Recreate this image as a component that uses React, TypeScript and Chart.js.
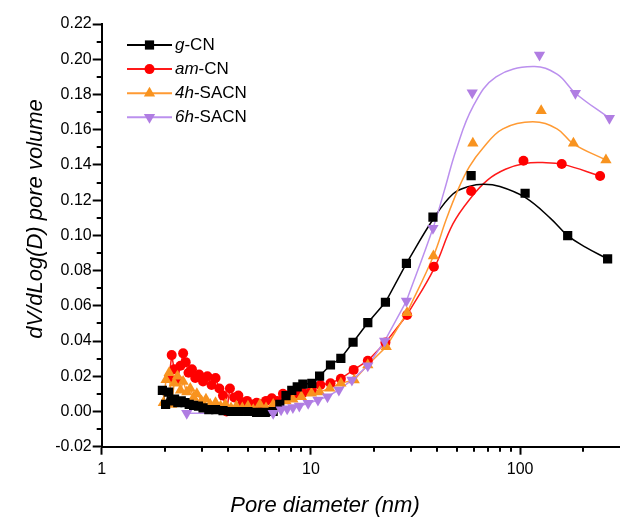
import React, { useEffect, useRef } from 'react';
import { Chart, registerables } from 'chart.js';

Chart.register(...registerables);

const FONT = '"Liberation Sans", Arial, Helvetica, sans-serif';

// ---- tick definitions ----
const xMajorTicks = [1, 10, 100];
const xMinorTicks = [2, 3, 4, 5, 6, 7, 8, 9, 20, 30, 40, 50, 60, 70, 80, 90, 200];
const yMajorTicks = [-0.02, 0, 0.02, 0.04, 0.06, 0.08, 0.1, 0.12, 0.14, 0.16, 0.18, 0.2, 0.22];
const yMinorTicks = [-0.01, 0.01, 0.03, 0.05, 0.07, 0.09, 0.11, 0.13, 0.15, 0.17, 0.19, 0.21];

// ---- g-CN ----
const gcnX = [1.95, 2.02, 2.09, 2.16, 2.23, 2.31, 2.4, 2.5, 2.62, 2.75, 2.9, 3.05, 3.25, 3.5, 3.8, 4.15, 4.55, 5.0, 5.5, 6.05, 6.6, 7.1, 7.6, 8.1, 8.6, 9.15, 10.1, 11.0, 12.4, 13.9, 15.9, 18.7, 22.7, 28.6, 38.3, 58.3, 105.6, 168.7, 261.8];
const gcnY = [0.012, 0.004, 0.011, 0.006, 0.007, 0.005, 0.006, 0.005, 0.004, 0.0035, 0.003, 0.002, 0.001, 0.001, 0.0005, 0.0, 0.0, 0.0, -0.0005, -0.0005, 0.0, 0.004, 0.009, 0.012, 0.014, 0.0155, 0.016, 0.0201, 0.0264, 0.0302, 0.0393, 0.0504, 0.062, 0.0841, 0.1103, 0.1339, 0.1239, 0.0998, 0.0866];
const gcnFitX = [28.6, 38.3, 47.7, 57, 67, 80, 105.6, 140, 168.7, 206, 261.8];
const gcnFitY = [0.0841, 0.109, 0.1235, 0.1278, 0.129, 0.1277, 0.1215, 0.1095, 0.0998, 0.0932, 0.0866];

// ---- am-CN ----
const amX = [2.1, 2.16, 2.22, 2.3, 2.38, 2.45, 2.52, 2.6, 2.7, 2.8, 2.92, 3.05, 3.2, 3.35, 3.5, 3.65, 3.8, 3.95, 4.1, 4.3, 4.5, 4.7, 4.95, 5.2, 5.5, 5.8, 6.1, 6.5, 6.9, 7.35, 7.8, 8.5, 9.17, 10.1, 11.1, 12.4, 13.9, 16.0, 18.7, 22.7, 28.8, 38.7, 58.3, 103.7, 158, 241];
const amY = [0.019, 0.032, 0.024, 0.018, 0.026, 0.033, 0.028, 0.022, 0.024, 0.019, 0.021, 0.017, 0.02, 0.015, 0.019, 0.013, 0.009, 0.0, 0.013, 0.008, 0.009, 0.005, 0.006, 0.004, 0.005, 0.004, 0.006, 0.0075, 0.006, 0.01, 0.008, 0.0103, 0.0107, 0.012, 0.015, 0.016, 0.0186, 0.0236, 0.0288, 0.0391, 0.0548, 0.0822, 0.1252, 0.1424, 0.1405, 0.1337];
const amFitX = [28.8, 38.7, 47.7, 58.3, 70, 85, 105, 128, 160, 241];
const amFitY = [0.0548, 0.081, 0.1065, 0.1215, 0.1315, 0.1375, 0.1408, 0.1413, 0.1403, 0.1337];

// ---- 4h-SACN ----
const h4X = [1.97, 2.03, 2.1, 2.16, 2.22, 2.3, 2.38, 2.45, 2.55, 2.65, 2.75, 2.85, 3.0, 3.15, 3.3, 3.5, 3.7, 3.9, 4.15, 4.4, 4.7, 5.0, 5.3, 5.7, 6.1, 6.6, 7.1, 7.6, 8.2, 9.0, 10.06, 11.0, 12.3, 13.9, 16.1, 18.7, 22.9, 28.8, 38.5, 59.4, 126, 179.7, 257];
const h4Y = [0.005, 0.018, 0.022, 0.004, 0.016, 0.02, 0.012, 0.017, 0.011, 0.013, 0.008, 0.01, 0.006, 0.007, 0.004, 0.005, 0.003, 0.004, 0.002, 0.003, 0.002, 0.003, 0.001, 0.004, 0.002, 0.004, 0.003, 0.006, 0.007, 0.0084, 0.0103, 0.011, 0.0132, 0.016, 0.0179, 0.0264, 0.0368, 0.0561, 0.0883, 0.1523, 0.1708, 0.1523, 0.1428];
const h4FitX = [28.8, 38.5, 44.3, 50.4, 57.2, 66.3, 82.7, 115, 150, 179.7, 257];
const h4FitY = [0.0561, 0.0883, 0.109, 0.1258, 0.139, 0.1495, 0.1605, 0.1645, 0.1605, 0.152, 0.1428];

// ---- 6h-SACN ----
const h6X = [2.55, 6.6, 7.2, 7.7, 8.2, 8.8, 9.7, 10.8, 12.0, 13.6, 15.7, 18.7, 22.5, 28.6, 38.3, 59.0, 123.7, 183.6, 267];
const h6Y = [-0.001, -0.001, 0.001, 0.0015, 0.0022, 0.0031, 0.0046, 0.0065, 0.0084, 0.0122, 0.0179, 0.026, 0.04, 0.0627, 0.104, 0.181, 0.2024, 0.1807, 0.1665];
const h6FitX = [28.6, 38.3, 43.5, 49.4, 59.4, 76.7, 115, 150, 183.6, 267];
const h6FitY = [0.0627, 0.104, 0.1258, 0.1485, 0.173, 0.19, 0.1958, 0.1915, 0.1807, 0.1665];

// ---- legend ----
const legendItalic = ['g', 'am', '4h', '6h'];
const legendRest = ['-CN', '-CN', '-SACN', '-SACN'];

const COLORS = {
  g: { line: '#000000', fill: '#000000' },
  am: { line: '#ff1a1a', fill: '#ff0000' },
  h4: { line: '#ff9a33', fill: '#f8931f' },
  h6: { line: '#bb90ee', fill: '#b07de2' },
};

type Pt = { x: number; y: number };
const toPts = (xs: number[], ys: number[]): Pt[] => xs.map((x, i) => ({ x, y: ys[i] }));

const MARKERS = [
  { style: 'rect', r: 6.5, rot: 0, c: COLORS.g },
  { style: 'circle', r: 5, rot: 0, c: COLORS.am },
  { style: 'triangle', r: 6.5, rot: 0, c: COLORS.h4 },
  { style: 'triangle', r: 6.5, rot: 180, c: COLORS.h6 },
];

function drawMarker(ctx: CanvasRenderingContext2D, style: string, x: number, y: number, r: number, rot: number, color: string) {
  ctx.save();
  ctx.fillStyle = color;
  ctx.beginPath();
  if (style === 'rect') {
    const s = Math.SQRT1_2 * r;
    ctx.rect(x - s, y - s, 2 * s, 2 * s);
  } else if (style === 'circle') {
    ctx.arc(x, y, r, 0, Math.PI * 2);
  } else {
    let rad = (rot * Math.PI) / 180;
    ctx.moveTo(x + Math.sin(rad) * r, y - Math.cos(rad) * r);
    rad += (2 * Math.PI) / 3;
    ctx.lineTo(x + Math.sin(rad) * r, y - Math.cos(rad) * r);
    rad += (2 * Math.PI) / 3;
    ctx.lineTo(x + Math.sin(rad) * r, y - Math.cos(rad) * r);
    ctx.closePath();
  }
  ctx.fill();
  ctx.restore();
}

const decorPlugin = {
  id: 'decor',
  afterDraw(chart: any) {
    const ctx: CanvasRenderingContext2D = chart.ctx;
    const xs = chart.scales.x;
    const ys = chart.scales.y;
    const area = chart.chartArea;
    ctx.save();
    // minor ticks
    ctx.strokeStyle = '#000';
    ctx.lineWidth = 2;
    ctx.beginPath();
    xMinorTicks.forEach((v) => {
      const px = Math.round(xs.getPixelForValue(v));
      ctx.moveTo(px, area.bottom);
      ctx.lineTo(px, area.bottom + 5);
    });
    yMinorTicks.forEach((v) => {
      const py = Math.round(ys.getPixelForValue(v));
      ctx.moveTo(area.left, py);
      ctx.lineTo(area.left - 5, py);
    });
    ctx.stroke();

    // axis titles
    ctx.fillStyle = '#000';
    ctx.font = `italic 22px ${FONT}`;
    ctx.textAlign = 'center';
    ctx.textBaseline = 'middle';
    ctx.fillText('Pore diameter (nm)', 325, 506);
    ctx.save();
    ctx.translate(36, 219);
    ctx.rotate(-Math.PI / 2);
    ctx.fillText('dV/dLog(D) pore volume', 0, 0);
    ctx.restore();

    // legend
    const lx0 = 127;
    const lx1 = 172;
    const ly0 = 45;
    const ldy = 24.1;
    ctx.textAlign = 'left';
    for (let i = 0; i < 4; i++) {
      const y = ly0 + i * ldy;
      const m = MARKERS[i];
      ctx.strokeStyle = m.c.line;
      ctx.lineWidth = 2;
      ctx.beginPath();
      ctx.moveTo(lx0, y);
      ctx.lineTo(lx1, y);
      ctx.stroke();
      drawMarker(ctx, m.style, (lx0 + lx1) / 2, y, m.r, m.rot, m.c.fill);
      ctx.fillStyle = '#000';
      ctx.font = `italic 17px ${FONT}`;
      const tx = 175;
      ctx.fillText(legendItalic[i], tx, y);
      const w = ctx.measureText(legendItalic[i]).width;
      ctx.font = `17px ${FONT}`;
      ctx.fillText(legendRest[i], tx + w, y);
    }
    ctx.restore();
  },
};

export default function App() {
  const ref = useRef<HTMLCanvasElement | null>(null);

  useEffect(() => {
    if (!ref.current) return;
    const markerSet = (label: string, xs: number[], ys: number[], idx: number, order: number) => {
      const m = MARKERS[idx];
      return {
        label,
        data: toPts(xs, ys),
        showLine: false,
        pointStyle: m.style,
        pointRadius: m.r,
        pointRotation: m.rot,
        pointBackgroundColor: m.c.fill,
        pointBorderColor: m.c.fill,
        pointBorderWidth: 0,
        order,
      };
    };
    // low-range segment: straight joins between the measured points
    const lowSet = (label: string, xs: number[], ys: number[], fx: number[], color: string, order: number) => ({
      label,
      data: toPts(xs, ys).filter((p) => p.x <= fx[0]),
      showLine: true,
      borderColor: color,
      borderWidth: 1.5,
      pointRadius: 0,
      tension: 0,
      fill: false,
      order,
    });
    // high-range segment: smooth fitted curve
    const fitSet = (label: string, fx: number[], fy: number[], color: string, order: number) => ({
      label,
      data: toPts(fx, fy),
      showLine: true,
      borderColor: color,
      borderWidth: 1.5,
      pointRadius: 0,
      tension: 0.4,
      fill: false,
      order,
    });

    const chart = new Chart(ref.current, {
      type: 'scatter',
      data: {
        datasets: [
          lowSet('g-CN low', gcnX, gcnY, gcnFitX, COLORS.g.line, 12),
          lowSet('am-CN low', amX, amY, amFitX, COLORS.am.line, 13),
          lowSet('4h-SACN low', h4X, h4Y, h4FitX, COLORS.h4.line, 11),
          lowSet('6h-SACN low', h6X, h6Y, h6FitX, COLORS.h6.line, 10),
          fitSet('g-CN fit', gcnFitX, gcnFitY, COLORS.g.line, 12),
          fitSet('am-CN fit', amFitX, amFitY, COLORS.am.line, 13),
          fitSet('4h-SACN fit', h4FitX, h4FitY, COLORS.h4.line, 11),
          fitSet('6h-SACN fit', h6FitX, h6FitY, COLORS.h6.line, 10),
          markerSet('g-CN', gcnX, gcnY, 0, 1),
          markerSet('am-CN', amX, amY, 1, 3),
          markerSet('4h-SACN', h4X, h4Y, 2, 2),
          markerSet('6h-SACN', h6X, h6Y, 3, 0),
        ] as any,
      },
      options: {
        animation: false,
        responsive: false,
        devicePixelRatio: 1,
        layout: { autoPadding: false, padding: { top: 24, right: 0, left: 0, bottom: 0 } },
        plugins: { legend: { display: false }, tooltip: { enabled: false } },
        scales: {
          x: {
            type: 'logarithmic',
            min: 1,
            max: 300,
            afterBuildTicks: (s: any) => {
              s.ticks = xMajorTicks.map((v) => ({ value: v }));
            },
            afterFit: (s: any) => {
              s.height = 74.3;
            },
            grid: { drawOnChartArea: false, drawTicks: true, tickLength: 8, tickWidth: 2, tickColor: '#000' },
            border: { display: true, color: '#000', width: 2 },
            ticks: {
              color: '#000',
              font: { family: FONT, size: 16 },
              padding: 5,
              maxRotation: 0,
              autoSkip: false,
              callback: (v: any) => String(v),
            },
          },
          y: {
            type: 'linear',
            min: -0.02,
            max: 0.22,
            afterBuildTicks: (s: any) => {
              s.ticks = yMajorTicks.map((v) => ({ value: v }));
            },
            afterFit: (s: any) => {
              s.width = 101.7;
            },
            grid: { drawOnChartArea: false, drawTicks: true, tickLength: 9, tickWidth: 2, tickColor: '#000' },
            border: { display: true, color: '#000', width: 2 },
            ticks: {
              color: '#000',
              font: { family: FONT, size: 16 },
              padding: 1,
              autoSkip: false,
              callback: (v: any) => Number(v).toFixed(2),
            },
          },
        },
      } as any,
      plugins: [decorPlugin],
    });
    return () => chart.destroy();
  }, []);

  return (
    <div style={{ position: 'fixed', left: 0, top: 0, width: 620, height: 521, background: '#fff' }}>
      <canvas ref={ref} width={620} height={521} style={{ width: 620, height: 521, display: 'block' }} />
    </div>
  );
}
